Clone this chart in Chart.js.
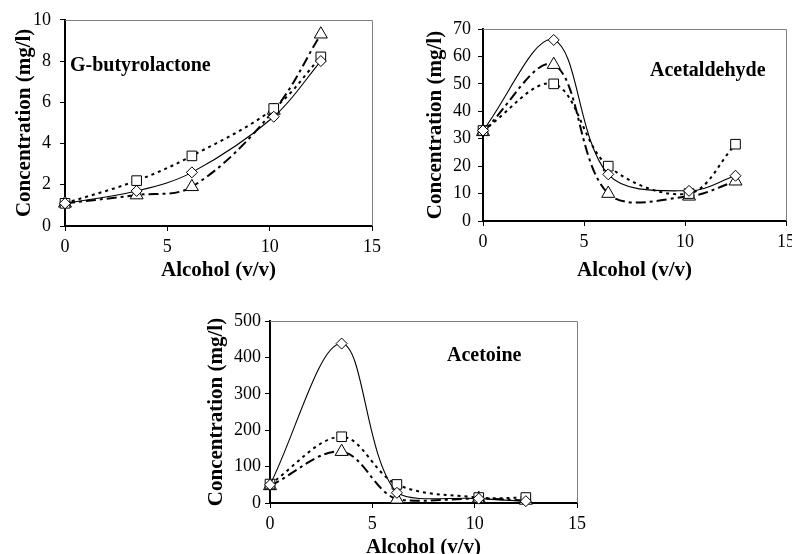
<!DOCTYPE html>
<html>
<head>
<meta charset="utf-8">
<title>Volatile compounds vs alcohol</title>
<script src="https://cdn.jsdelivr.net/npm/chart.js@4.4.1/dist/chart.umd.min.js"></script>
<style>
  html, body { margin: 0; padding: 0; background: #fff; overflow: hidden; }
  body { width: 792px; height: 554px; position: relative; }
  canvas { position: absolute; }
  .tag { position: absolute; font: bold 20px 'Liberation Serif', 'Times New Roman', serif; color: #000; line-height: 1; white-space: nowrap; }
</style>
</head>
<body>
<canvas id="chartButyro" width="400" height="290" style="left:0;top:0"></canvas>
<canvas id="chartAcetal" width="420" height="290" style="left:400px;top:0"></canvas>
<canvas id="chartAcetoin" width="420" height="270" style="left:180px;top:300px"></canvas>
<div class="tag" style="left:70px;top:54px">G-butyrolactone</div>
<div class="tag" style="left:650px;top:59px">Acetaldehyde</div>
<div class="tag" style="left:447px;top:344px">Acetoine</div>

<script>
// alcohol levels (v/v) shared by every series
const alcohol = [0, 3.5, 6.2, 10.2, 12.5];

// G-butyrolactone (mg/l)
const butyroDiamond  = [1.1, 1.7, 2.6, 5.3, 8.0];
const butyroSquare   = [1.1, 2.2, 3.4, 5.7, 8.2];
const butyroTriangle = [1.1, 1.5, 1.9, 5.6, 9.3];

// Acetaldehyde (mg/l)
const acetalDiamond  = [33, 66, 17, 11, 16.5];
const acetalSquare   = [33, 50, 20, 10, 28];
const acetalTriangle = [32.5, 57, 10, 9, 14.5];

// Acetoine (mg/l)
const acetoinDiamond  = [50, 438, 28, 12, 5];
const acetoinSquare   = [52, 182, 51, 15, 15];
const acetoinTriangle = [47, 141, 10, 12, 7];

const SERIF = "'Liberation Serif', 'Times New Roman', serif";
const INK = '#000';

// thin grey top/right edge of each plot box
const frame = {
  id: 'frame',
  beforeDatasetsDraw(chart) {
    const { ctx, chartArea: a } = chart;
    ctx.save();
    ctx.strokeStyle = '#808080';
    ctx.lineWidth = 1;
    ctx.beginPath();
    ctx.moveTo(a.left, Math.round(a.top) + 0.5);
    ctx.lineTo(Math.round(a.right) + 0.5, Math.round(a.top) + 0.5);
    ctx.lineTo(Math.round(a.right) + 0.5, a.bottom);
    ctx.stroke();
    ctx.restore();
  }
};

const markerBase = {
  pointBackgroundColor: '#fff',
  pointBorderColor: INK,
  pointBorderWidth: 1,
  borderColor: INK,
  fill: false,
  tension: 0.35,
  clip: 8,
};
const diamondLine  = { ...markerBase, pointStyle: 'rectRot', pointRadius: 5.5, borderWidth: 1.1 };
const squareLine   = { ...markerBase, pointStyle: 'rect', pointRadius: 6.8, borderWidth: 2, borderDash: [3, 4] };
const triangleLine = { ...markerBase, pointStyle: 'triangle', pointRadius: 7.5, borderWidth: 2, borderDash: [10, 4, 3, 4] };

function series(values, style) {
  return { data: values.map((y, i) => ({ x: alcohol[i], y })), ...style };
}

function makeChart(id, sets, cfg) {
  new Chart(document.getElementById(id), {
    type: 'line',
    data: {
      datasets: [
        series(sets[0], diamondLine),
        series(sets[1], squareLine),
        series(sets[2], triangleLine),
      ]
    },
    options: {
      responsive: false,
      animation: false,
      layout: { padding: { top: cfg.top, right: cfg.right, left: 0, bottom: 0 } },
      plugins: { legend: { display: false }, tooltip: { enabled: false } },
      scales: {
        x: {
          type: 'linear', min: 0, max: 15,
          afterFit: s => { s.height = cfg.xHeight; },
          afterBuildTicks: s => { s.ticks = [0, 5, 10, 15].map(v => ({ value: v })); },
          ticks: { color: INK, padding: 5, font: { family: SERIF, size: 18 } },
          grid: { drawOnChartArea: false, drawTicks: true, tickLength: 5, color: INK },
          border: { color: INK, width: 2 },
          title: { display: true, text: 'Alcohol (v/v)', color: INK,
                   font: { family: SERIF, size: 21, weight: 'bold' },
                   padding: { top: 0, bottom: cfg.xTitlePad } }
        },
        y: {
          type: 'linear', min: 0, max: cfg.yMax,
          afterFit: s => { s.width = cfg.yWidth; },
          ticks: { stepSize: cfg.yStep, color: INK, padding: cfg.tickPad, font: { family: SERIF, size: 18 } },
          grid: { drawOnChartArea: false, drawTicks: true, tickLength: 5, color: INK },
          border: { color: INK, width: 2 },
          title: { display: true, text: 'Concentration (mg/l)', color: INK,
                   font: { family: SERIF, size: 21, weight: 'bold' },
                   padding: { top: cfg.yTitlePad, bottom: 0 } }
        }
      }
    },
    plugins: [frame]
  });
}

makeChart('chartButyro', [butyroDiamond, butyroSquare, butyroTriangle],
  { yMax: 10, yStep: 2, top: 16, right: 28, yWidth: 65, xHeight: 64, yTitlePad: 12, xTitlePad: 7, tickPad: 9 });

makeChart('chartAcetal', [acetalDiamond, acetalSquare, acetalTriangle],
  { yMax: 70, yStep: 10, top: 29, right: 34, yWidth: 83, xHeight: 69, yTitlePad: 23, xTitlePad: 7, tickPad: 7 });

makeChart('chartAcetoin', [acetoinDiamond, acetoinSquare, acetoinTriangle],
  { yMax: 500, yStep: 100, top: 21, right: 23, yWidth: 90, xHeight: 67, yTitlePad: 24, xTitlePad: 10, tickPad: 4 });
</script>
</body>
</html>
